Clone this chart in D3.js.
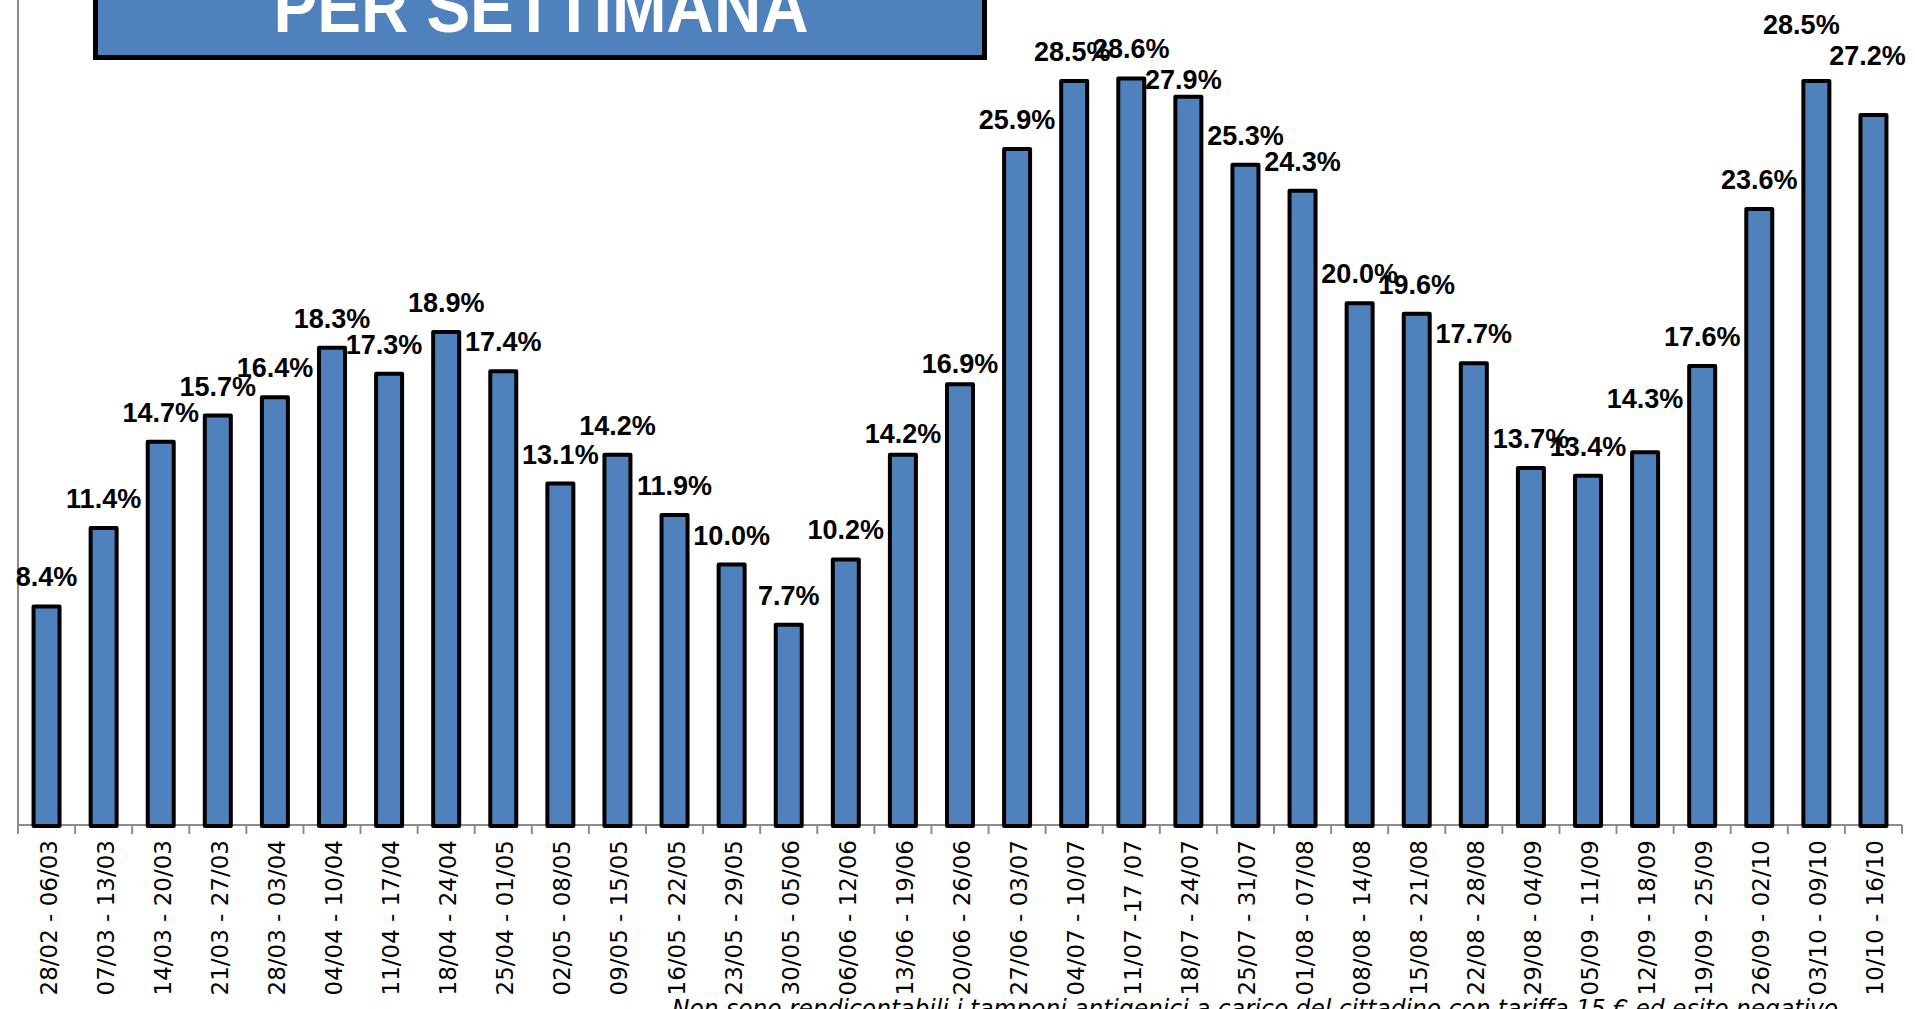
<!DOCTYPE html>
<html>
<head>
<meta charset="utf-8">
<script src="https://cdn.jsdelivr.net/npm/d3@7"></script>
<style>
  html, body { margin: 0; padding: 0; background: #fff; overflow: hidden; }
</style>
</head>
<body>
<div id="chart"></div>
<script>

// Settimane
const settimane = [
    '28/02 - 06/03', '07/03 - 13/03', '14/03 - 20/03', '21/03 - 27/03', '28/03 - 03/04',
    '04/04 - 10/04', '11/04 - 17/04', '18/04 - 24/04', '25/04 - 01/05', '02/05 - 08/05',
    '09/05 - 15/05', '16/05 - 22/05', '23/05 - 29/05', '30/05 - 05/06', '06/06 - 12/06',
    '13/06 - 19/06', '20/06 - 26/06', '27/06 - 03/07', '04/07 - 10/07', '11/07 -17 /07',
    '18/07 - 24/07', '25/07 - 31/07', '01/08 - 07/08', '08/08 - 14/08', '15/08 - 21/08',
    '22/08 - 28/08', '29/08 - 04/09', '05/09 - 11/09', '12/09 - 18/09', '19/09 - 25/09',
    '26/09 - 02/10', '03/10 - 09/10', '10/10 - 16/10'
];

// Percentuale per settimana
const percentuali = [
    8.4, 11.4, 14.7, 15.7, 16.4, 18.3, 17.3, 18.9, 17.4, 13.1,
    14.2, 11.9, 10.0, 7.7, 10.2, 14.2, 16.9, 25.9, 28.5, 28.6,
    27.9, 25.3, 24.3, 20.0, 19.6, 17.7, 13.7, 13.4, 14.3, 17.6,
    23.6, 28.5, 27.2
];

const titolo = 'PER SETTIMANA';
const nota = 'Non sono rendicontabili i tamponi antigenici a carico del cittadino con tariffa 15 € ed esito negativo';

// spostamenti manuali delle etichette (come nel grafico originale)
const spostaEtichetta = {
    6: [-5, 0], 15: [0, 8], 16: [0, 9], 18: [-2, 0], 20: [-5, 12],
    28: [0, -24], 31: [-15, -27], 32: [-6, -30]
};

const width = 1915, height = 1009;
const margin = { left: 18, right: 13, bottom: 826 };

const svg = d3.select('#chart')
    .append('svg')
    .attr('width', width)
    .attr('height', height);

// Scale
const xScale = d3.scaleBand()
    .domain(settimane)
    .range([margin.left, width - margin.right])
    .padding(0);

const barW = 26;

const yScale = d3.scaleLinear()
    .domain([0, 31.6])
    .range([margin.bottom, 0]);

// Asse Y (solo la linea)
svg.append('line')
    .attr('x1', margin.left).attr('x2', margin.left)
    .attr('y1', 0).attr('y2', yScale(0) - 1)
    .attr('stroke', '#8c8c8c')
    .attr('stroke-width', 2);

// Asse X
svg.append('line')
    .attr('x1', margin.left).attr('x2', width - margin.right)
    .attr('y1', yScale(0) - 1).attr('y2', yScale(0) - 1)
    .attr('stroke', '#8c8c8c')
    .attr('stroke-width', 2);

const confini = d3.range(settimane.length + 1).map(i => margin.left + i * xScale.step());
svg.append('g')
    .selectAll('line')
    .data(confini)
    .join('line')
    .attr('x1', d => d).attr('x2', d => d)
    .attr('y1', yScale(0) - 1).attr('y2', yScale(0) + 8)
    .attr('stroke', '#8c8c8c')
    .attr('stroke-width', 2);

// Barre
svg.append('g')
    .selectAll('rect')
    .data(percentuali)
    .join('rect')
    .attr('x', (d, i) => xScale(settimane[i]) + (xScale.bandwidth() - barW) / 2)
    .attr('y', d => yScale(d))
    .attr('width', barW)
    .attr('height', d => yScale(0) - yScale(d))
    .attr('fill', '#4f81bd')
    .attr('stroke', '#000')
    .attr('stroke-width', 4)
    .attr('stroke-linejoin', 'round');

// Etichette valori
svg.append('g')
    .selectAll('text')
    .data(percentuali)
    .join('text')
    .attr('x', (d, i) => xScale(settimane[i]) + xScale.bandwidth() / 2 + (spostaEtichetta[i] ? spostaEtichetta[i][0] : 0))
    .attr('y', (d, i) => yScale(d) - 20 + (spostaEtichetta[i] ? spostaEtichetta[i][1] : 0))
    .attr('text-anchor', 'middle')
    .style('font-family', '"Liberation Sans", Arial, sans-serif')
    .style('font-weight', 'bold')
    .style('font-size', '27px')
    .attr('fill', '#000')
    .text(d => d.toFixed(1) + '%');

// Etichette asse X
svg.append('g')
    .selectAll('text')
    .data(settimane)
    .join('text')
    .attr('transform', d => `translate(${xScale(d) + xScale.bandwidth() / 2 + 10}, 840) rotate(-90)`)
    .attr('text-anchor', 'end')
    .style('font-family', '"DejaVu Sans", Verdana, sans-serif')
    .style('font-size', '23px')
    .attr('fill', '#000')
    .text(d => d);

// Titolo
svg.append('rect')
    .attr('x', 95.5).attr('y', -60)
    .attr('width', 889).attr('height', 117.5)
    .attr('fill', '#4f81bd')
    .attr('stroke', '#000')
    .attr('stroke-width', 5);

svg.append('text')
    .attr('x', 541).attr('y', 32)
    .attr('text-anchor', 'middle')
    .attr('textLength', 535)
    .attr('lengthAdjust', 'spacingAndGlyphs')
    .style('font-family', '"Liberation Sans", Arial, sans-serif')
    .style('font-weight', 'bold')
    .style('font-size', '72px')
    .attr('fill', '#fff')
    .text(titolo);

// Nota
svg.append('text')
    .attr('x', 672).attr('y', 1017)
    .attr('textLength', 1166)
    .attr('lengthAdjust', 'spacingAndGlyphs')
    .style('font-family', '"DejaVu Sans", Verdana, sans-serif')
    .style('font-style', 'italic')
    .style('font-size', '24px')
    .attr('fill', '#000')
    .text(nota);

</script>
</body>
</html>
